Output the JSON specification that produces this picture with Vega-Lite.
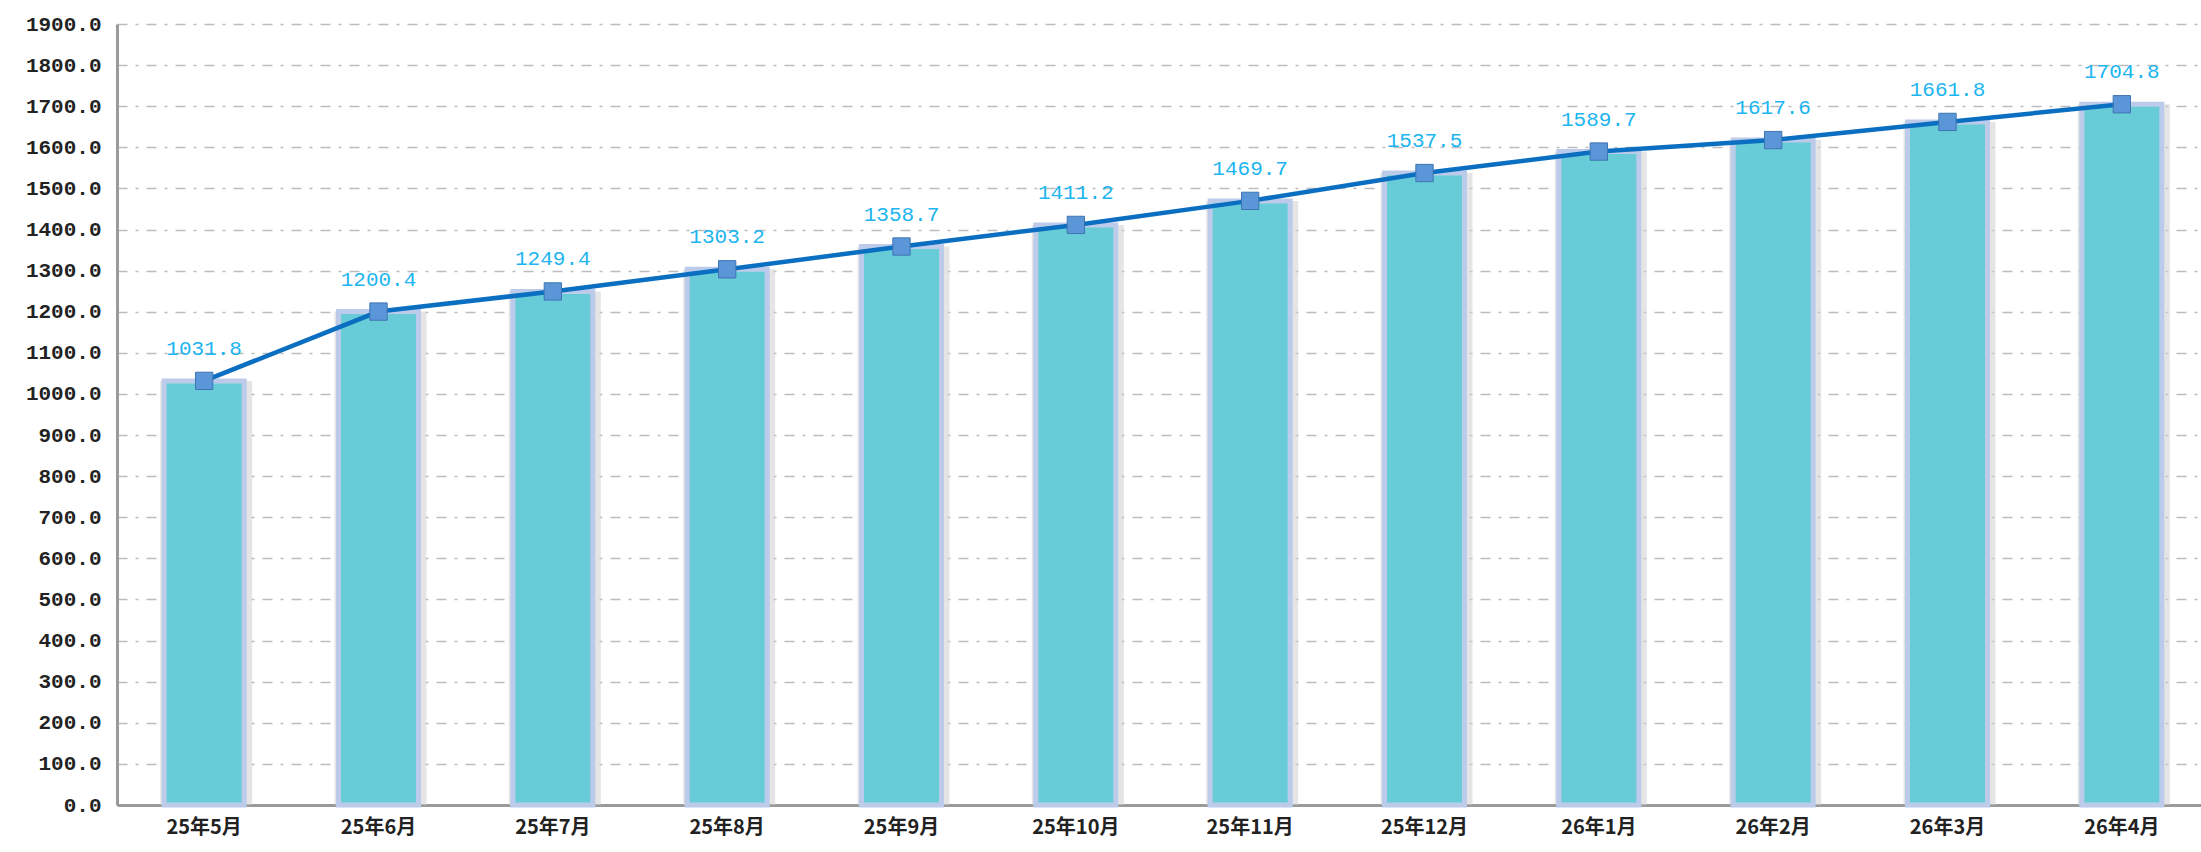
{
  "$schema": "https://vega.github.io/schema/vega-lite/v6.json",
  "autosize": {"type": "none"},
  "width": 2092,
  "height": 781,
  "padding": {"left": 117, "top": 24, "right": 0, "bottom": 47},
  "background": "white",
  "config": {"view": {"stroke": null}},
  "data": {"values": [
    {"m": "25年5月", "v": 1031.8},
    {"m": "25年6月", "v": 1200.4},
    {"m": "25年7月", "v": 1249.4},
    {"m": "25年8月", "v": 1303.2},
    {"m": "25年9月", "v": 1358.7},
    {"m": "25年10月", "v": 1411.2},
    {"m": "25年11月", "v": 1469.7},
    {"m": "25年12月", "v": 1537.5},
    {"m": "26年1月", "v": 1589.7},
    {"m": "26年2月", "v": 1617.6},
    {"m": "26年3月", "v": 1661.8},
    {"m": "26年4月", "v": 1704.8}
  ]},
  "encoding": {
    "x": {"field": "m", "type": "nominal", "sort": null,
      "scale": {"paddingInner": 0.52, "paddingOuter": 0.26},
      "axis": {"title": null, "labelAngle": 0, "labelFont": "Noto Sans CJK SC", "labelFontWeight": "bold", "labelFontSize": 20, "labelColor": "#222222", "labelPadding": 12, "ticks": false, "domainColor": "#9a9a9a", "domainWidth": 3, "grid": false}},
    "y": {"field": "v", "type": "quantitative",
      "scale": {"domain": [0, 1900], "nice": false},
      "axis": {"title": null, "values": [0,100,200,300,400,500,600,700,800,900,1000,1100,1200,1300,1400,1500,1600,1700,1800,1900], "format": ".1f", "labelFont": "Liberation Mono", "labelFontWeight": "bold", "labelFontSize": 21, "labelColor": "#222222", "labelPadding": 16, "ticks": false, "domainColor": "#9a9a9a", "domainWidth": 3, "grid": true, "gridColor": "#bdbdbd", "gridWidth": 1.5, "gridDash": [10, 8, 3, 8]}}
  },
  "layer": [
    {"mark": {"type": "bar", "fill": "#d0d0d0", "opacity": 0.55, "xOffset": 2, "width": 92}, "encoding": {}},
    {"mark": {"type": "bar", "fill": "#67ccd8", "stroke": "#bccbea", "strokeWidth": 5, "width": 80}, "encoding": {}},
    {"mark": {"type": "line", "color": "#0b6fc1", "strokeWidth": 4.5}, "encoding": {}},
    {"mark": {"type": "point", "shape": "square", "filled": true, "size": 300, "fill": "#5b96d8", "stroke": "#3f74b3", "strokeWidth": 1, "opacity": 1}, "encoding": {}},
    {"mark": {"type": "text", "dy": -32, "font": "Liberation Mono", "fontSize": 21, "color": "#1cb5f0"}, "encoding": {"text": {"field": "v", "type": "quantitative", "format": ".1f"}}}
  ]
}
